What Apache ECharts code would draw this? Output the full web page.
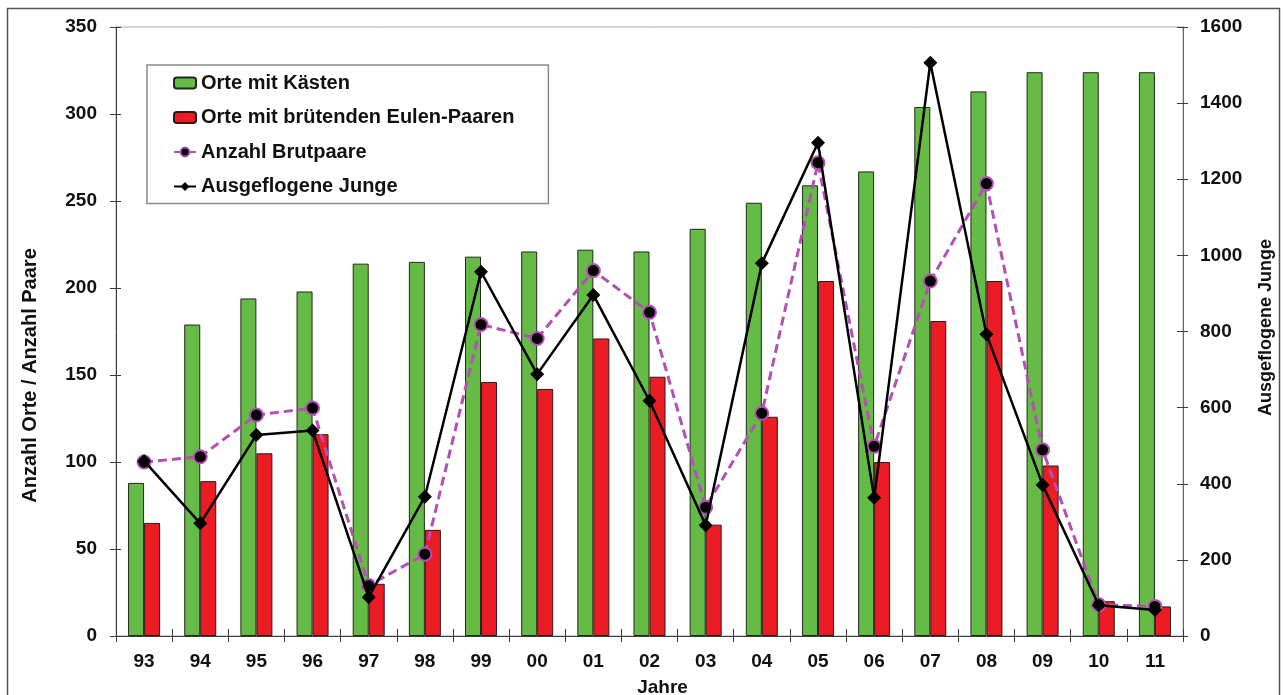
<!DOCTYPE html>
<html>
<head>
<meta charset="utf-8">
<title>Eulen – Orte, Brutpaare und Junge</title>
<script src="https://cdn.jsdelivr.net/npm/echarts@6/dist/echarts.min.js"></script>
<style>
  html, body { margin: 0; padding: 0; background: #fff; }
  #chart { width: 1284px; height: 695px; }
</style>
</head>
<body>
<div id="chart"></div>
<script>
// Jahre (zweistellig)
const years = ['93','94','95','96','97','98','99','00','01','02','03','04','05','06','07','08','09','10','11'];

// Orte mit Kästen
const orteKaesten = [88, 179, 194, 198, 214, 215, 218, 221, 222, 221, 234, 249, 259, 267, 304, 313, 324, 324, 324];

// Orte mit brütenden Eulen-Paaren
const orteBrut = [65, 89, 105, 116, 30, 61, 146, 142, 171, 149, 64, 126, 204, 100, 181, 204, 98, 20, 17];

// Anzahl Brutpaare (linke Achse)
const brutpaare = [100, 103, 127, 131, 29, 47, 179, 171, 210, 186, 74, 128, 272, 109, 204, 260, 107, 18, 17];

// Ausgeflogene Junge (rechte Achse)
const junge = [460, 296, 528, 540, 102, 366, 957, 688, 896, 618, 291, 979, 1296, 363, 1506, 793, 397, 81, 68];

const FONT = '"Liberation Sans", Arial, Helvetica, sans-serif';
const AXIS_COLOR = '#3a3a3a';
const labelStyle = { color: '#111', fontFamily: FONT, fontWeight: 'bold', fontSize: 19 };
const plain = v => String(v);

const chart = echarts.init(document.getElementById('chart'), null, { renderer: 'canvas' });

// helper: an extra axis that only draws the inner half of the crossing ticks
function innerTickY(position, max, interval, len) {
  return {
    type: 'value', position, min: 0, max, interval,
    axisLine: { show: false },
    axisTick: { show: true, inside: true, length: len, lineStyle: { color: AXIS_COLOR, width: 1 } },
    axisLabel: { show: false },
    splitLine: { show: false }
  };
}

const option = {
  animation: false,
  backgroundColor: '#ffffff',
  textStyle: { fontFamily: FONT },
  graphic: [{
    type: 'rect',
    silent: true,
    z: 100,
    shape: { x: 7.5, y: 8.5, width: 1272, height: 720 },
    style: { fill: 'none', stroke: '#555', lineWidth: 1.5 }
  }],
  grid: {
    left: 116, right: 101, top: 27, bottom: 59,
    containLabel: false,
    outerBoundsMode: 'none',
    show: true, borderColor: '#a8a8a8', borderWidth: 1, backgroundColor: 'transparent'
  },
  legend: {
    orient: 'vertical',
    left: 147, top: 65,
    padding: [8, 34, 7, 26],
    itemGap: 14.5,
    itemWidth: 22, itemHeight: 11,
    borderColor: '#8a8a8a', borderWidth: 1.5,
    backgroundColor: '#fff',
    textStyle: { color: '#111', fontFamily: FONT, fontWeight: 'bold', fontSize: 20, lineHeight: 20 },
    data: ['Orte mit Kästen', 'Orte mit brütenden Eulen-Paaren', 'Anzahl Brutpaare', 'Ausgeflogene Junge']
  },
  xAxis: [{
    type: 'category',
    data: years,
    boundaryGap: true,
    name: 'Jahre',
    nameLocation: 'middle',
    nameGap: 42,
    nameTextStyle: { color: '#111', fontFamily: FONT, fontWeight: 'bold', fontSize: 19, padding: [0, 0, 0, 26] },
    axisLine: { show: true, lineStyle: { color: AXIS_COLOR, width: 1 } },
    axisTick: { show: true, length: 6, lineStyle: { color: AXIS_COLOR, width: 1 } },
    axisLabel: Object.assign({ margin: 16 }, labelStyle),
    splitLine: { show: false }
  }, {
    type: 'category',
    data: years,
    position: 'bottom',
    boundaryGap: true,
    axisLine: { show: false },
    axisTick: { show: true, inside: true, length: 7, lineStyle: { color: AXIS_COLOR, width: 1 } },
    axisLabel: { show: false },
    splitLine: { show: false }
  }],
  yAxis: [{
    type: 'value',
    position: 'left',
    min: 0, max: 350, interval: 50,
    name: 'Anzahl Orte / Anzahl Paare',
    nameLocation: 'middle',
    nameGap: 76,
    nameTextStyle: { color: '#111', fontFamily: FONT, fontWeight: 'bold', fontSize: 20, padding: [0, 88, 0, 0] },
    axisLine: { show: true, lineStyle: { color: AXIS_COLOR, width: 1 } },
    axisTick: { show: true, length: 6, lineStyle: { color: AXIS_COLOR, width: 1 } },
    axisLabel: Object.assign({ margin: 19, formatter: plain }, labelStyle),
    splitLine: { show: false }
  }, {
    type: 'value',
    position: 'right',
    min: 0, max: 1600, interval: 200,
    name: 'Ausgeflogene Junge',
    nameLocation: 'middle',
    nameGap: 74,
    nameRotate: 90,
    nameTextStyle: { color: '#111', fontFamily: FONT, fontWeight: 'bold', fontSize: 18, verticalAlign: 'top', padding: [0, 0, 0, 8] },
    axisLine: { show: true, lineStyle: { color: '#6a6a6a', width: 1 } },
    axisTick: { show: true, length: 5, lineStyle: { color: AXIS_COLOR, width: 1 } },
    axisLabel: Object.assign({ margin: 17, formatter: plain }, labelStyle),
    splitLine: { show: false }
  },
  innerTickY('left', 350, 50, 5),
  innerTickY('right', 1600, 200, 6)
  ],
  series: [{
    name: 'Orte mit Kästen',
    type: 'bar',
    xAxisIndex: 0, yAxisIndex: 0,
    data: orteKaesten,
    barGap: '0%',
    barCategoryGap: '43%',
    itemStyle: { color: '#66bb46', borderColor: '#1e2a1a', borderWidth: 1 },
    z: 2
  }, {
    name: 'Orte mit brütenden Eulen-Paaren',
    type: 'bar',
    xAxisIndex: 0, yAxisIndex: 0,
    data: orteBrut,
    barGap: '0%',
    barCategoryGap: '43%',
    itemStyle: { color: '#ec1c24', borderColor: '#2a1a1a', borderWidth: 1 },
    z: 2
  }, {
    name: 'Anzahl Brutpaare',
    type: 'line',
    xAxisIndex: 0, yAxisIndex: 0,
    data: brutpaare,
    symbol: 'circle',
    symbolSize: 13,
    lineStyle: { color: '#b44fb4', width: 3, type: [9, 5] },
    itemStyle: { color: '#000', borderColor: '#b44fb4', borderWidth: 2 },
    z: 3
  }, {
    name: 'Ausgeflogene Junge',
    type: 'line',
    xAxisIndex: 0, yAxisIndex: 1,
    data: junge,
    symbol: 'diamond',
    symbolSize: 14,
    lineStyle: { color: '#000', width: 2.5 },
    itemStyle: { color: '#000' },
    z: 4
  }]
};

chart.setOption(option);
</script>
</body>
</html>
